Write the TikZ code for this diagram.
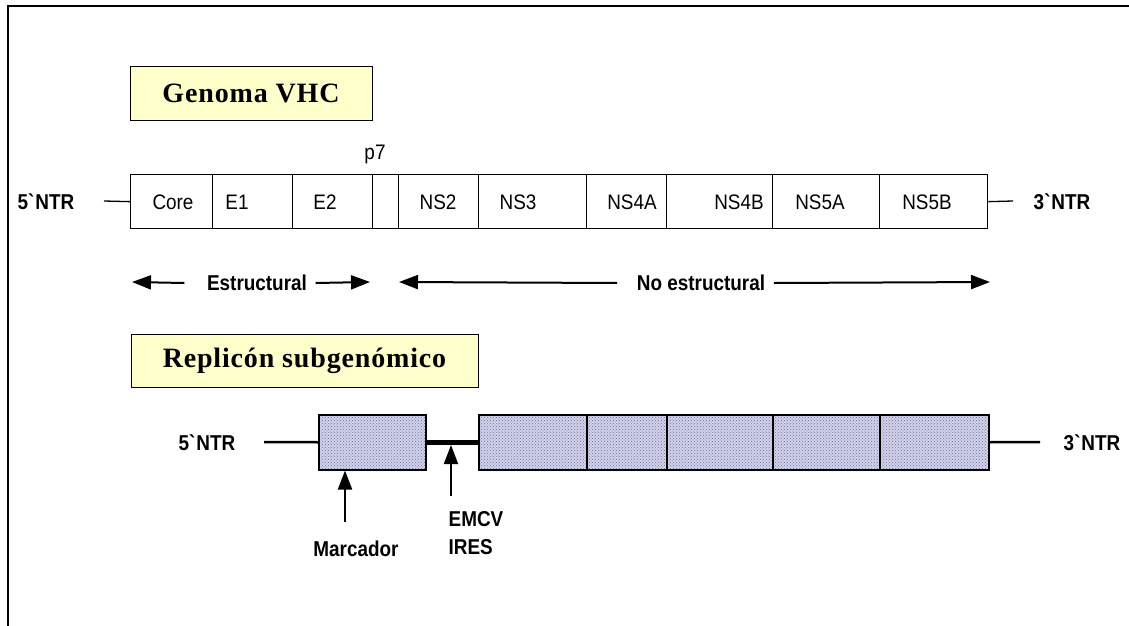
\documentclass[tikz,border=0pt]{standalone}
\usepackage{fontspec}
\setmainfont{Liberation Serif}
\setsansfont{Liberation Sans}
\usepackage{tikz}
\usetikzlibrary{calc,arrows.meta,patterns}
\definecolor{amarillo}{RGB}{255,255,204}
\definecolor{lila}{RGB}{210,210,232}
\definecolor{lilaosc}{RGB}{110,110,170}

\begin{document}
\begin{tikzpicture}[x=1pt, y=-1pt, line width=1.3pt,
    >={Triangle[length=19pt,width=14pt]},
    titulo/.style={draw, fill=amarillo, line width=1pt, minimum height=53pt,
      font=\fontsize{28}{32}\selectfont\bfseries\addfontfeature{LetterSpace=3}},
    seg/.style={draw, anchor=north west, inner sep=0pt, minimum height=54pt},
    rep/.style={draw, line width=1.5pt, anchor=north west, inner sep=0pt, minimum height=55pt,
      preaction={fill=lila}, pattern=crosshatch dots, pattern color=lilaosc},
    gentxt/.style={font=\fontsize{21}{24}\selectfont\sffamily\addfontfeature{FakeStretch=0.9}},
    negrita/.style={font=\fontsize{21.5}{28}\selectfont\sffamily\bfseries\addfontfeature{FakeStretch=0.88},
      inner xsep=8pt}]
    \useasboundingbox (0,0) rectangle (1129,626);
    % marco
    \coordinate (mA) at (8,626);
    \coordinate (mB) at (8,6);
    \coordinate (mC) at (1129,6);
    \draw[line width=2pt] (mA) -- (mB) -- (mC);
    % genoma VHC (segmentos: borde izq/der, posicion del texto)
    \node[titulo, minimum width=242pt] (tgen) at (251,93.5) {Genoma VHC};
    \foreach \a/\b/\t/\n [count=\i] in {130/212/173/Core, 212/292/237/E1, 292/372/325/E2,
        372/398/385/{}, 398/478/438/NS2, 478/586/518/NS3, 586/666/632/NS4A,
        666/772/739/NS4B, 772/879/820/NS5A, 879/987/927/NS5B} {
      \node[seg, minimum width=\b pt-\a pt] (g\i) at (\a,174) {};
      \node[gentxt] (l\i) at (\t,202) {\n};
    }
    \node[gentxt] (p7) at (375,154) {p7};
    \coordinate (g5L) at (104,201);
    \coordinate (g3R) at (1013,201);
    \draw (g5L) -- (g1.west);
    \draw (g10.east) -- (g3R);
    \node[negrita] (ntr5) at (46,202) {5\textasciigrave NTR};
    \node[negrita] (ntr3) at (1062,202) {3\textasciigrave NTR};
    % regiones estructural / no estructural
    \node[negrita] (estr) at (257,283) {Estructural};
    \node[negrita] (noest) at (701,283) {No estructural};
    \coordinate (eL) at (132,282);
    \coordinate (eR) at (370,282);
    \coordinate (nL) at (399,282);
    \coordinate (nR) at (990,282);
    \draw[->, line width=2pt] ([xshift=-14pt]estr.west) -- (eL);
    \draw[->, line width=2pt] (estr.east) -- (eR);
    \draw[->, line width=2pt] ([xshift=-11pt]noest.west) -- (nL);
    \draw[->, line width=2pt] (noest.east) -- (nR);
    % replicon subgenomico
    \node[titulo, minimum width=347pt] (trep) at (304.5,361) {Replicón subgenómico};
    \node[rep, minimum width=107pt] (marc) at (318,414) {};
    \foreach \a/\b [count=\i] in {478/586, 586/666, 666/772, 772/879, 879/988}
      \node[rep, minimum width=\b pt-\a pt] (r\i) at (\a,414) {};
    \coordinate (r5L) at (264,442);
    \coordinate (r3R) at (1040,442);
    \draw[line width=2.5pt] (r5L) -- (marc.west);
    \draw[line width=5pt] (marc.east) -- (r1.west);
    \draw[line width=2.5pt] (r5.east) -- (r3R);
    \node[negrita] (rntr5) at (207,443) {5\textasciigrave NTR};
    \node[negrita] (rntr3) at (1092,443) {3\textasciigrave NTR};
    % marcador e IRES
    \coordinate (mT) at (345,522);
    \coordinate (iT) at (451,496);
    \coordinate (iP) at (451,445);
    \draw[->, line width=2pt] (mT) -- (mT |- marc.south);
    \draw[->, line width=2pt] (iT) -- (iP);
    \node[negrita] (marcador) at (356,549) {Marcador};
    \node[negrita, align=left, anchor=west, inner xsep=0pt] (ires) at (448,533) {EMCV\\IRES};
\end{tikzpicture}
\end{document}
